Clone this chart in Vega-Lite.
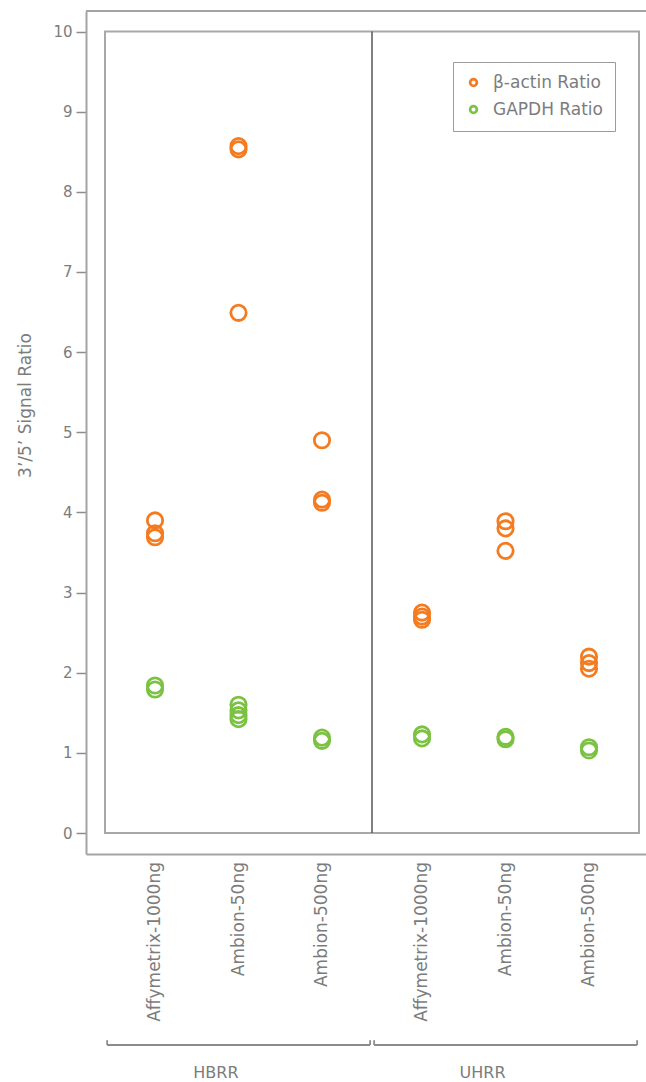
{
  "$schema": "https://vega.github.io/schema/vega-lite/v6.json",
  "width": 560,
  "height": 843,
  "autosize": {"type": "none"},
  "padding": {"left": 86, "top": 11, "right": 0, "bottom": 228},
  "background": "white",
  "config": {
    "view": {"stroke": null},
    "font": "DejaVu Sans"
  },
  "datasets": {
    "points": [
      {"group": "HBRR", "sample": "Affymetrix-1000ng", "series": "β-actin Ratio", "ratio": 3.90},
      {"group": "HBRR", "sample": "Affymetrix-1000ng", "series": "β-actin Ratio", "ratio": 3.74},
      {"group": "HBRR", "sample": "Affymetrix-1000ng", "series": "β-actin Ratio", "ratio": 3.69},
      {"group": "HBRR", "sample": "Ambion-50ng", "series": "β-actin Ratio", "ratio": 8.57},
      {"group": "HBRR", "sample": "Ambion-50ng", "series": "β-actin Ratio", "ratio": 8.53},
      {"group": "HBRR", "sample": "Ambion-50ng", "series": "β-actin Ratio", "ratio": 6.49},
      {"group": "HBRR", "sample": "Ambion-500ng", "series": "β-actin Ratio", "ratio": 4.90},
      {"group": "HBRR", "sample": "Ambion-500ng", "series": "β-actin Ratio", "ratio": 4.16},
      {"group": "HBRR", "sample": "Ambion-500ng", "series": "β-actin Ratio", "ratio": 4.12},
      {"group": "UHRR", "sample": "Affymetrix-1000ng", "series": "β-actin Ratio", "ratio": 2.75},
      {"group": "UHRR", "sample": "Affymetrix-1000ng", "series": "β-actin Ratio", "ratio": 2.70},
      {"group": "UHRR", "sample": "Affymetrix-1000ng", "series": "β-actin Ratio", "ratio": 2.66},
      {"group": "UHRR", "sample": "Ambion-50ng", "series": "β-actin Ratio", "ratio": 3.89},
      {"group": "UHRR", "sample": "Ambion-50ng", "series": "β-actin Ratio", "ratio": 3.80},
      {"group": "UHRR", "sample": "Ambion-50ng", "series": "β-actin Ratio", "ratio": 3.52},
      {"group": "UHRR", "sample": "Ambion-500ng", "series": "β-actin Ratio", "ratio": 2.20},
      {"group": "UHRR", "sample": "Ambion-500ng", "series": "β-actin Ratio", "ratio": 2.12},
      {"group": "UHRR", "sample": "Ambion-500ng", "series": "β-actin Ratio", "ratio": 2.05},
      {"group": "HBRR", "sample": "Affymetrix-1000ng", "series": "GAPDH Ratio", "ratio": 1.84},
      {"group": "HBRR", "sample": "Affymetrix-1000ng", "series": "GAPDH Ratio", "ratio": 1.79},
      {"group": "HBRR", "sample": "Ambion-50ng", "series": "GAPDH Ratio", "ratio": 1.60},
      {"group": "HBRR", "sample": "Ambion-50ng", "series": "GAPDH Ratio", "ratio": 1.53},
      {"group": "HBRR", "sample": "Ambion-50ng", "series": "GAPDH Ratio", "ratio": 1.47},
      {"group": "HBRR", "sample": "Ambion-50ng", "series": "GAPDH Ratio", "ratio": 1.42},
      {"group": "HBRR", "sample": "Ambion-500ng", "series": "GAPDH Ratio", "ratio": 1.19},
      {"group": "HBRR", "sample": "Ambion-500ng", "series": "GAPDH Ratio", "ratio": 1.15},
      {"group": "UHRR", "sample": "Affymetrix-1000ng", "series": "GAPDH Ratio", "ratio": 1.23},
      {"group": "UHRR", "sample": "Affymetrix-1000ng", "series": "GAPDH Ratio", "ratio": 1.18},
      {"group": "UHRR", "sample": "Ambion-50ng", "series": "GAPDH Ratio", "ratio": 1.20},
      {"group": "UHRR", "sample": "Ambion-50ng", "series": "GAPDH Ratio", "ratio": 1.17},
      {"group": "UHRR", "sample": "Ambion-500ng", "series": "GAPDH Ratio", "ratio": 1.07},
      {"group": "UHRR", "sample": "Ambion-500ng", "series": "GAPDH Ratio", "ratio": 1.03}
    ],
    "labels": [
      {"group": "HBRR", "sample": "Affymetrix-1000ng"},
      {"group": "HBRR", "sample": "Ambion-50ng"},
      {"group": "HBRR", "sample": "Ambion-500ng"},
      {"group": "UHRR", "sample": "Affymetrix-1000ng"},
      {"group": "UHRR", "sample": "Ambion-50ng"},
      {"group": "UHRR", "sample": "Ambion-500ng"}
    ],
    "groups": [{"group": "HBRR"}, {"group": "UHRR"}],
    "one": [{"frame": "plot"}]
  },
  "layer": [
    {
      "data": {"name": "one"},
      "mark": {"type": "rule", "color": "#a4a4a4", "strokeWidth": 2},
      "encoding": {"y": {"datum": 10.256, "type": "quantitative"}}
    },
    {
      "data": {"name": "one"},
      "mark": {"type": "rect", "fillOpacity": 0, "stroke": "#a8a8a8", "strokeWidth": 2},
      "encoding": {
        "x": {"datum": "HBRR", "type": "nominal", "bandPosition": 0},
        "x2": {"datum": "UHRR", "bandPosition": 1},
        "y": {"datum": 0, "type": "quantitative"},
        "y2": {"datum": 10}
      }
    },
    {
      "data": {"name": "one"},
      "mark": {"type": "rule", "color": "#555555", "strokeWidth": 1.5},
      "encoding": {
        "x": {"datum": "UHRR", "type": "nominal", "bandPosition": 0},
        "y": {"datum": 0, "type": "quantitative"},
        "y2": {"datum": 10}
      }
    },
    {
      "data": {"name": "groups"},
      "mark": {"type": "rule", "color": "#8c8c8c", "strokeWidth": 1.8},
      "encoding": {
        "x": {"field": "group", "type": "nominal", "bandPosition": 0.008},
        "x2": {"field": "group", "bandPosition": 0.993},
        "y": {"datum": -2.645, "type": "quantitative"}
      }
    },
    {
      "data": {"name": "groups"},
      "mark": {"type": "rule", "color": "#8c8c8c", "strokeWidth": 1.8},
      "encoding": {
        "x": {"field": "group", "type": "nominal", "bandPosition": 0.008},
        "y": {"datum": -2.645, "type": "quantitative"},
        "y2": {"datum": -2.585}
      }
    },
    {
      "data": {"name": "groups"},
      "mark": {"type": "rule", "color": "#8c8c8c", "strokeWidth": 1.8},
      "encoding": {
        "x": {"field": "group", "type": "nominal", "bandPosition": 0.993},
        "y": {"datum": -2.645, "type": "quantitative"},
        "y2": {"datum": -2.585}
      }
    },
    {
      "data": {"name": "labels"},
      "mark": {"type": "text", "angle": 270, "align": "right", "baseline": "middle", "dx": -29, "font": "DejaVu Sans", "fontSize": 17, "color": "#7c7c7c"},
      "encoding": {
        "x": {"field": "group", "type": "nominal"},
        "xOffset": {"field": "sample", "type": "nominal", "sort": ["Affymetrix-1000ng", "Ambion-50ng", "Ambion-500ng"]},
        "y": {"datum": 0, "type": "quantitative"},
        "text": {"field": "sample"}
      }
    },
    {
      "data": {"name": "points"},
      "mark": {"type": "point", "shape": "circle", "filled": false, "size": 235, "strokeWidth": 2.8, "opacity": 1},
      "encoding": {
        "x": {
          "field": "group", "type": "nominal",
          "scale": {"type": "band", "domain": ["HBRR", "UHRR"], "paddingInner": 0, "paddingOuter": 0.0487, "align": 0.731},
          "axis": {"title": null, "labelAngle": 0, "ticks": false, "domain": true, "domainColor": "#a4a4a4", "domainWidth": 2, "labelPadding": 210, "labelFont": "DejaVu Sans", "labelFontSize": 16, "labelColor": "#7c7c7c", "labelBaseline": "top"}
        },
        "xOffset": {
          "field": "sample", "type": "nominal",
          "sort": ["Affymetrix-1000ng", "Ambion-50ng", "Ambion-500ng"],
          "scale": {"type": "band", "paddingInner": 0, "paddingOuter": 0.099}
        },
        "y": {
          "field": "ratio", "type": "quantitative",
          "scale": {"domain": [-0.262, 10.256], "nice": false, "zero": false},
          "axis": {
            "values": [0, 1, 2, 3, 4, 5, 6, 7, 8, 9, 10],
            "format": "d",
            "grid": false,
            "domain": true, "domainColor": "#a4a4a4", "domainWidth": 2,
            "tickColor": "#8c8c8c", "tickWidth": 1.5, "tickSize": 10,
            "labelFont": "DejaVu Sans", "labelFontSize": 15, "labelColor": "#7c7c7c", "labelPadding": 4,
            "title": "3’/5’ Signal Ratio",
            "titleFont": "DejaVu Sans", "titleFontSize": 17, "titleFontWeight": "normal", "titleColor": "#7c7c7c",
            "titleX": -52, "titleY": 394, "titleAngle": 270, "titleAlign": "center", "titleBaseline": "bottom"
          }
        },
        "color": {
          "field": "series", "type": "nominal",
          "scale": {"domain": ["β-actin Ratio", "GAPDH Ratio"], "range": ["#f47b20", "#7cc242"]},
          "legend": {
            "title": null,
            "orient": "none", "legendX": 367, "legendY": 51,
            "padding": 12, "rowPadding": 8,
            "strokeColor": "#9c9c9c",
            "symbolType": "circle", "symbolSize": 45, "symbolStrokeWidth": 2.8, "symbolFillColor": "white",
            "labelFont": "DejaVu Sans", "labelFontSize": 17, "labelColor": "#7c7c7c", "labelOffset": 11,
            "encode": {"legend": {"update": {"strokeWidth": {"value": 2}}}}
          }
        }
      }
    }
  ]
}
